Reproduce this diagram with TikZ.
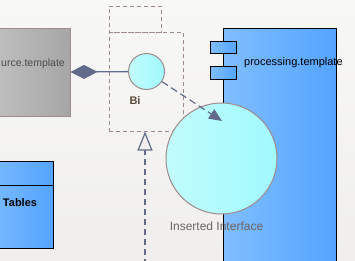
\documentclass[tikz,border=0pt]{standalone}
\usepackage{fontspec}
\setmainfont{Liberation Sans}
\usetikzlibrary{arrows.meta,fit,positioning}
\definecolor{paperhi}{RGB}{248,248,247}
\definecolor{paperlo}{RGB}{240,239,238}
\definecolor{edgebrown}{RGB}{160,138,138}
\definecolor{slate}{RGB}{98,108,138}
\definecolor{blueL}{RGB}{128,190,255}
\definecolor{blueR}{RGB}{84,164,255}
\definecolor{cyanL}{RGB}{194,252,252}
\definecolor{cyanR}{RGB}{160,250,255}
\definecolor{grayL}{RGB}{202,202,202}
\definecolor{grayR}{RGB}{166,166,166}
\definecolor{labelbrown}{RGB}{90,72,55}
\definecolor{labelgray}{RGB}{110,100,100}
\tikzset{
  artifact/.style={draw=edgebrown, line width=1pt, left color=grayL, right color=grayR, inner sep=0pt},
  component/.style={draw=black, line width=1pt, left color=blueL, right color=blueR, inner sep=0pt},
  iface/.style={circle, draw=edgebrown, line width=1pt, left color=cyanL, right color=cyanR, inner sep=0pt},
  boundary/.style={draw=edgebrown, line width=1pt, dash pattern=on 4pt off 3pt, inner sep=0pt},
  aggregate/.style={{Diamond[length=27pt,width=14pt]}-, slate, line width=1.3pt},
  depend/.style={-{Triangle[length=13pt,width=11pt]}, slate, line width=1.2pt, dash pattern=on 7pt off 4pt},
  realize/.style={-{Triangle[open,length=19pt,width=15pt,fill=paperlo]}, slate, line width=1.2pt, dash pattern=on 6pt off 4pt},
  note/.style={inner sep=0pt, font=\fontsize{10.5}{12}\selectfont}
}

\begin{document}
\begin{tikzpicture}[x=1pt,y=-1pt]
  \useasboundingbox (0,0) rectangle (355,260);
  \clip (0,0) rectangle (355,260);
  \fill[top color=paperhi, bottom color=paperlo] (0,0) rectangle (355,260);
  % boundaries
  \node[boundary, fit={(109,6) (161,32)}] (bnest) {};
  \node[boundary, fit={(109,32) (183,131)}] (bound) {};
  % elements
  \node[artifact, fit={(-40,28) (70,116)}] (src) {};
  \node[note, anchor=east, text=black!70] (srclabel) at (65,64) {urce.template};
  \node[component, fit={(223,28) (336,290)}] (proc) {};
  \node[component, fit={(210,41) (236,53)}] (porta) {};
  \node[component, fit={(210,66) (236,79)}] (portb) {};
  \node[note, anchor=west, font=\fontsize{11}{13}\selectfont] (proclabel) at (244,63) {processing.template};
  \node[component, fit={(-20,161) (53,248)}] (tables) {};
  \draw[black, line width=1pt] (-20,185) -- (53,185);
  \node[note, font=\bfseries\fontsize{11}{13}\selectfont] (tableslabel) at (20,203) {Tables};
  \node[iface, minimum size=36pt] (bi) at (146.5,71.5) {};
  \node[note, font=\bfseries\fontsize{11}{13}\selectfont, text=labelbrown] (bilabel) at (135,101) {Bi};
  \node[iface, minimum size=111pt] (ins) at (221.5,158.5) {};
  \node[note, font=\fontsize{12}{14}\selectfont, text=labelgray] (inslabel) at (216.5,226) {Inserted Interface};
  % connectors
  \coordinate (insin) at (222,121);
  \coordinate (realfoot) at (145,265);
  \draw[aggregate] (src.east) -- (bi);
  \draw[depend] (bi) -- (insin);
  \draw[realize] (realfoot) -- (realfoot |- bound.south);
\end{tikzpicture}
\end{document}
